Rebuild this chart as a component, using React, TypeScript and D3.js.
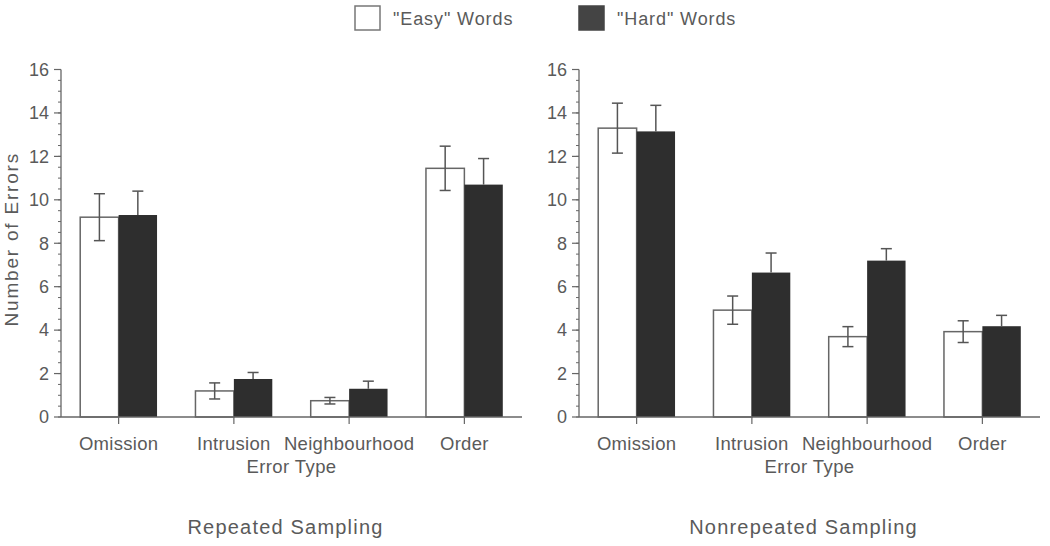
import React from 'react';
import * as d3 from 'd3';

const categories = ['Omission', 'Intrusion', 'Neighbourhood', 'Order'];
const seriesNames = ['"Easy" Words', '"Hard" Words'];

// Repeated Sampling
const repeatedEasy = [9.2, 1.2, 0.75, 11.45];
const repeatedEasyErr = [1.08, 0.37, 0.15, 1.02];
const repeatedHard = [9.3, 1.75, 1.3, 10.7];
const repeatedHardErr = [1.1, 0.3, 0.35, 1.2];

// Nonrepeated Sampling
const nonrepEasy = [13.3, 4.92, 3.7, 3.93];
const nonrepEasyErr = [1.15, 0.65, 0.46, 0.5];
const nonrepHard = [13.15, 6.65, 7.2, 4.18];
const nonrepHardErr = [1.2, 0.9, 0.55, 0.5];

const panelTitles = ['Repeated Sampling', 'Nonrepeated Sampling'];
const yMax = 16;

const textCol = '#5a5a5a',
  axisCol = '#666',
  darkFill = '#2e2e2e',
  font = '"Liberation Sans", Arial, Helvetica, sans-serif';

type PanelProps = {
  x0: number;
  x1: number;
  easy: number[];
  easyErr: number[];
  hard: number[];
  hardErr: number[];
  title: string;
  showYLabel: boolean;
};

const Panel = ({ x0, x1, easy, easyErr, hard, hardErr, title, showYLabel }: PanelProps) => {
  const y = d3.scaleLinear().domain([0, yMax]).range([417, 69.5]);
  const x = d3.scaleBand().domain(categories).range([x0, x1]).paddingInner(1 / 3).paddingOuter(1 / 6);
  const sub = d3.scaleBand().domain(seriesNames).range([0, x.bandwidth()]);
  const bw = sub.bandwidth();
  const cap = 5.5;
  const midX = (x0 + x1) / 2;

  return (
    <g>
      {/* y axis */}
      <line x1={x0} x2={x0} y1={y(0)} y2={y(yMax)} stroke={axisCol} strokeWidth={1.3} />
      {y.ticks(32).map((t) => (
        <line key={'m' + t} x1={x0 - 3} x2={x0} y1={y(t)} y2={y(t)} stroke={axisCol} strokeWidth={1} />
      ))}
      {y.ticks(8).map((t) => (
        <g key={'t' + t}>
          <line x1={x0 - 7} x2={x0} y1={y(t)} y2={y(t)} stroke={axisCol} strokeWidth={1.2} />
          <text x={x0 - 12} y={y(t)} dy="0.35em" textAnchor="end" fontSize={18} fill={textCol}>
            {t}
          </text>
        </g>
      ))}
      {showYLabel && (
        <text
          transform={`translate(18,${y(yMax / 2) - 4}) rotate(-90)`}
          textAnchor="middle"
          fontSize={19}
          letterSpacing={1.8}
          fill={textCol}
        >
          Number of Errors
        </text>
      )}

      {/* bars */}
      {categories.map((c, i) => {
        const bx = x(c) as number;
        const ex = bx + (sub(seriesNames[0]) as number);
        const hx = bx + (sub(seriesNames[1]) as number);
        const ecx = ex + bw / 2,
          hcx = hx + bw / 2;
        return (
          <g key={c}>
            <rect x={ex} y={y(easy[i])} width={bw} height={y(0) - y(easy[i])} fill="white" stroke={axisCol} strokeWidth={1.5} />
            <rect x={hx} y={y(hard[i])} width={bw} height={y(0) - y(hard[i])} fill={darkFill} />
            {/* error bars */}
            <line x1={ecx} x2={ecx} y1={y(easy[i] + easyErr[i])} y2={y(easy[i] - easyErr[i])} stroke="#555" strokeWidth={1.5} />
            <line x1={ecx - cap} x2={ecx + cap} y1={y(easy[i] + easyErr[i])} y2={y(easy[i] + easyErr[i])} stroke="#555" strokeWidth={1.5} />
            <line x1={ecx - cap} x2={ecx + cap} y1={y(easy[i] - easyErr[i])} y2={y(easy[i] - easyErr[i])} stroke="#555" strokeWidth={1.5} />
            <line x1={hcx} x2={hcx} y1={y(hard[i] + hardErr[i])} y2={y(hard[i])} stroke="#555" strokeWidth={1.5} />
            <line x1={hcx - cap} x2={hcx + cap} y1={y(hard[i] + hardErr[i])} y2={y(hard[i] + hardErr[i])} stroke="#555" strokeWidth={1.5} />
          </g>
        );
      })}

      {/* x axis */}
      <line x1={x0} x2={x1} y1={y(0)} y2={y(0)} stroke={axisCol} strokeWidth={1.3} />
      {categories.map((c) => {
        const cx = (x(c) as number) + x.bandwidth() / 2;
        return (
          <g key={'x' + c}>
            <line x1={cx} x2={cx} y1={y(0)} y2={y(0) + 7} stroke={axisCol} strokeWidth={1.2} />
            <text x={cx} y={450} textAnchor="middle" fontSize={18.5} letterSpacing={0.3} fill={textCol}>
              {c}
            </text>
          </g>
        );
      })}
      <text x={midX} y={473} textAnchor="middle" fontSize={18.5} letterSpacing={0.4} fill={textCol}>
        Error Type
      </text>
      <text x={midX - 6} y={534} textAnchor="middle" fontSize={20} letterSpacing={1.2} fill={textCol}>
        {title}
      </text>
    </g>
  );
};

const App = () => {
  const legendX = [355, 579];
  return (
    <svg
      width={1050}
      height={546}
      style={{ position: 'absolute', left: 0, top: 0, background: 'white', fontFamily: font }}
    >
      <rect width={1050} height={546} fill="white" />
      {seriesNames.map((s, i) => (
        <g key={s}>
          <rect
            x={legendX[i]}
            y={6}
            width={25}
            height={24}
            fill={i === 0 ? 'white' : '#444'}
            stroke={i === 0 ? '#777' : '#444'}
            strokeWidth={1.5}
          />
          <text x={legendX[i] + 38} y={25} fontSize={18} letterSpacing={0.9} fill={textCol}>
            {s}
          </text>
        </g>
      ))}
      <Panel
        x0={61}
        x1={522}
        easy={repeatedEasy}
        easyErr={repeatedEasyErr}
        hard={repeatedHard}
        hardErr={repeatedHardErr}
        title={panelTitles[0]}
        showYLabel={true}
      />
      <Panel
        x0={579}
        x1={1040}
        easy={nonrepEasy}
        easyErr={nonrepEasyErr}
        hard={nonrepHard}
        hardErr={nonrepHardErr}
        title={panelTitles[1]}
        showYLabel={false}
      />
    </svg>
  );
};

export default App;
